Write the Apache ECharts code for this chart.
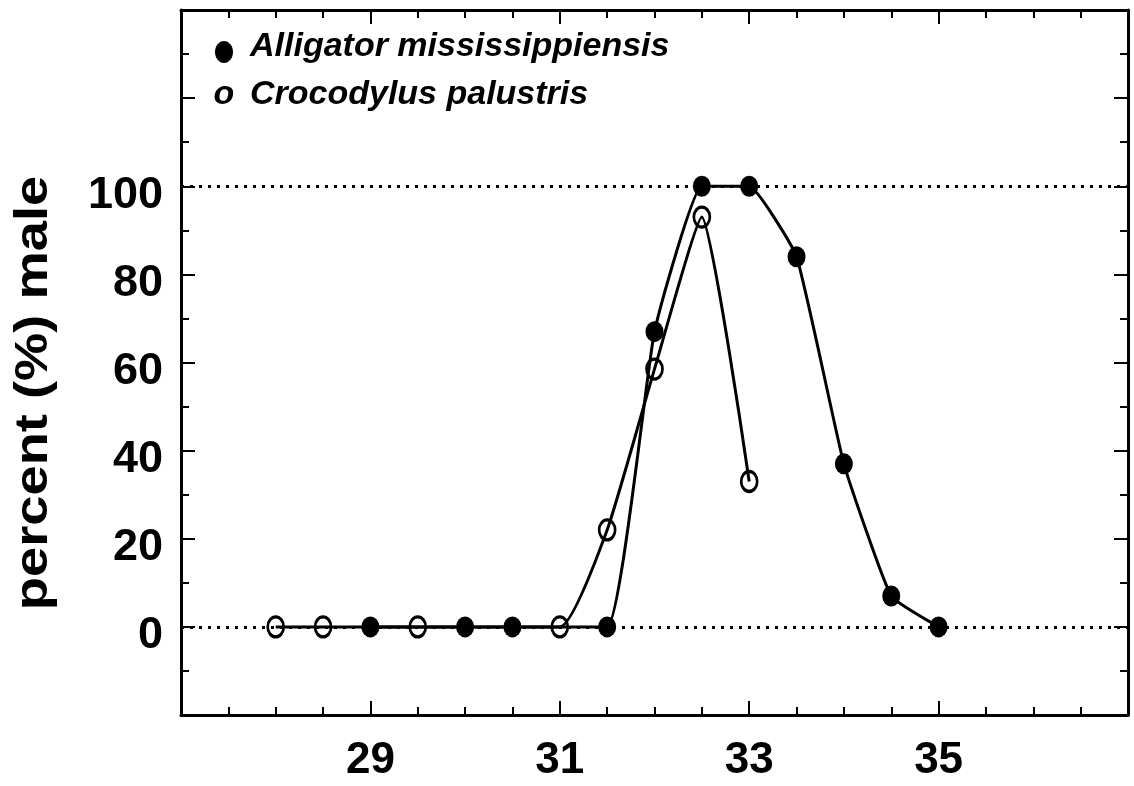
<!DOCTYPE html>
<html><head><meta charset="utf-8">
<script src="https://cdn.jsdelivr.net/npm/echarts@6/dist/echarts.min.js"></script>
<style>html,body{margin:0;padding:0;background:#fff}#chart{width:1134px;height:786px}</style>
</head><body><div id="chart"></div>
<script>
// Incubation temperature (°C) vs. percent male hatchlings
const alligatorTemp = [29, 30, 30.5, 31.5, 32, 32.5, 33, 33.5, 34, 34.5, 35];
const alligatorMale = [0, 0, 0, 0, 67, 100, 100, 84, 37, 7, 0];
const crocTemp = [28, 28.5, 29.5, 31, 31.5, 32, 32.5, 33];
const crocMale = [0, 0, 0, 0, 22, 58.5, 93, 33];
const xTickLabels = [29, 31, 33, 35];
const yTickLabels = [0, 20, 40, 60, 80, 100];
const referenceLevels = [0, 100];
const legendNames = ['Alligator mississippiensis', 'Crocodylus palustris'];
const yAxisTitle = 'percent (%) male';

const pair = (xs, ys) => xs.map((x, i) => [x, ys[i]]);
const textFont = '"Liberation Sans", Arial, Helvetica, sans-serif';

function xAxisCfg(pos, showLabels) {
  return {
    type: 'value', position: pos, min: 27, max: 37, interval: 2,
    axisLine: { show: true, onZero: false, lineStyle: { color: '#000', width: 3 } },
    axisTick: { show: true, inside: true, length: 14, lineStyle: { color: '#000', width: 2 } },
    minorTick: { show: true, splitNumber: 4, length: 8, lineStyle: { color: '#000', width: 2 } },
    splitLine: { show: false },
    axisLabel: {
      show: showLabels, margin: 24, color: '#000',
      fontFamily: textFont, fontWeight: 'bold', fontSize: 44,
      formatter: v => xTickLabels.includes(v) ? String(v) : ''
    }
  };
}
function yAxisCfg(pos, showLabels) {
  return {
    type: 'value', position: pos, min: -20, max: 140, interval: 20,
    axisLine: { show: true, onZero: false, lineStyle: { color: '#000', width: 3 } },
    axisTick: { show: true, inside: true, length: 14, lineStyle: { color: '#000', width: 2 } },
    minorTick: { show: true, splitNumber: 2, length: 8, lineStyle: { color: '#000', width: 2 } },
    splitLine: { show: false },
    axisLabel: {
      show: showLabels, margin: 18, color: '#000',
      verticalAlign: 'top', lineHeight: 18,
      fontFamily: textFont, fontWeight: 'bold', fontSize: 45,
      formatter: v => yTickLabels.includes(v) ? String(v) : ''
    }
  };
}

const chart = echarts.init(document.getElementById('chart'), null, { renderer: 'canvas' });
chart.setOption({
  backgroundColor: '#fff',
  animation: false,
  grid: { left: 181, right: 6, top: 10, bottom: 71, containLabel: false },
  xAxis: [xAxisCfg('bottom', true), xAxisCfg('top', false)],
  yAxis: [yAxisCfg('left', true), yAxisCfg('right', false)],
  graphic: [
    {
      type: 'text', x: 34, y: 393, rotation: Math.PI / 2, scaleX: 1.18,
      style: { text: yAxisTitle, fill: '#000', font: 'bold 46px ' + textFont, align: 'center', verticalAlign: 'middle' }
    },
    { type: 'ellipse', shape: { cx: 224, cy: 52, rx: 9, ry: 11 }, style: { fill: '#000' } },
    {
      type: 'text', x: 250, y: 47,
      style: { text: legendNames[0], fill: '#000', font: 'italic bold 34px ' + textFont, verticalAlign: 'middle' }
    },
    {
      type: 'text', x: 224, y: 95,
      style: { text: 'o', fill: '#000', font: 'italic bold 34px ' + textFont, align: 'center', verticalAlign: 'middle' }
    },
    {
      type: 'text', x: 250, y: 95,
      style: { text: legendNames[1], fill: '#000', font: 'italic bold 34px ' + textFont, verticalAlign: 'middle' }
    }
  ],
  series: [
    {
      name: legendNames[0], type: 'line', xAxisIndex: 0, yAxisIndex: 0,
      data: pair(alligatorTemp, alligatorMale), smooth: 0.12,
      symbol: 'circle', symbolSize: [18, 21],
      itemStyle: { color: '#000' },
      lineStyle: { color: '#000', width: 3 },
      z: 3,
      markLine: {
        silent: true, symbol: ['none', 'none'], label: { show: false },
        lineStyle: { color: '#000', width: 3, type: [3, 6] },
        data: referenceLevels.map(v => ({ yAxis: v }))
      }
    },
    {
      name: legendNames[1], type: 'line', xAxisIndex: 0, yAxisIndex: 0,
      data: pair(crocTemp, crocMale), smooth: 0.15,
      symbol: 'circle', symbolSize: [16, 20],
      itemStyle: { color: 'rgba(0,0,0,0)', borderColor: '#000', borderWidth: 3 },
      lineStyle: { color: '#000', width: 3 },
      z: 4
    }
  ]
});
</script>
</body></html>
